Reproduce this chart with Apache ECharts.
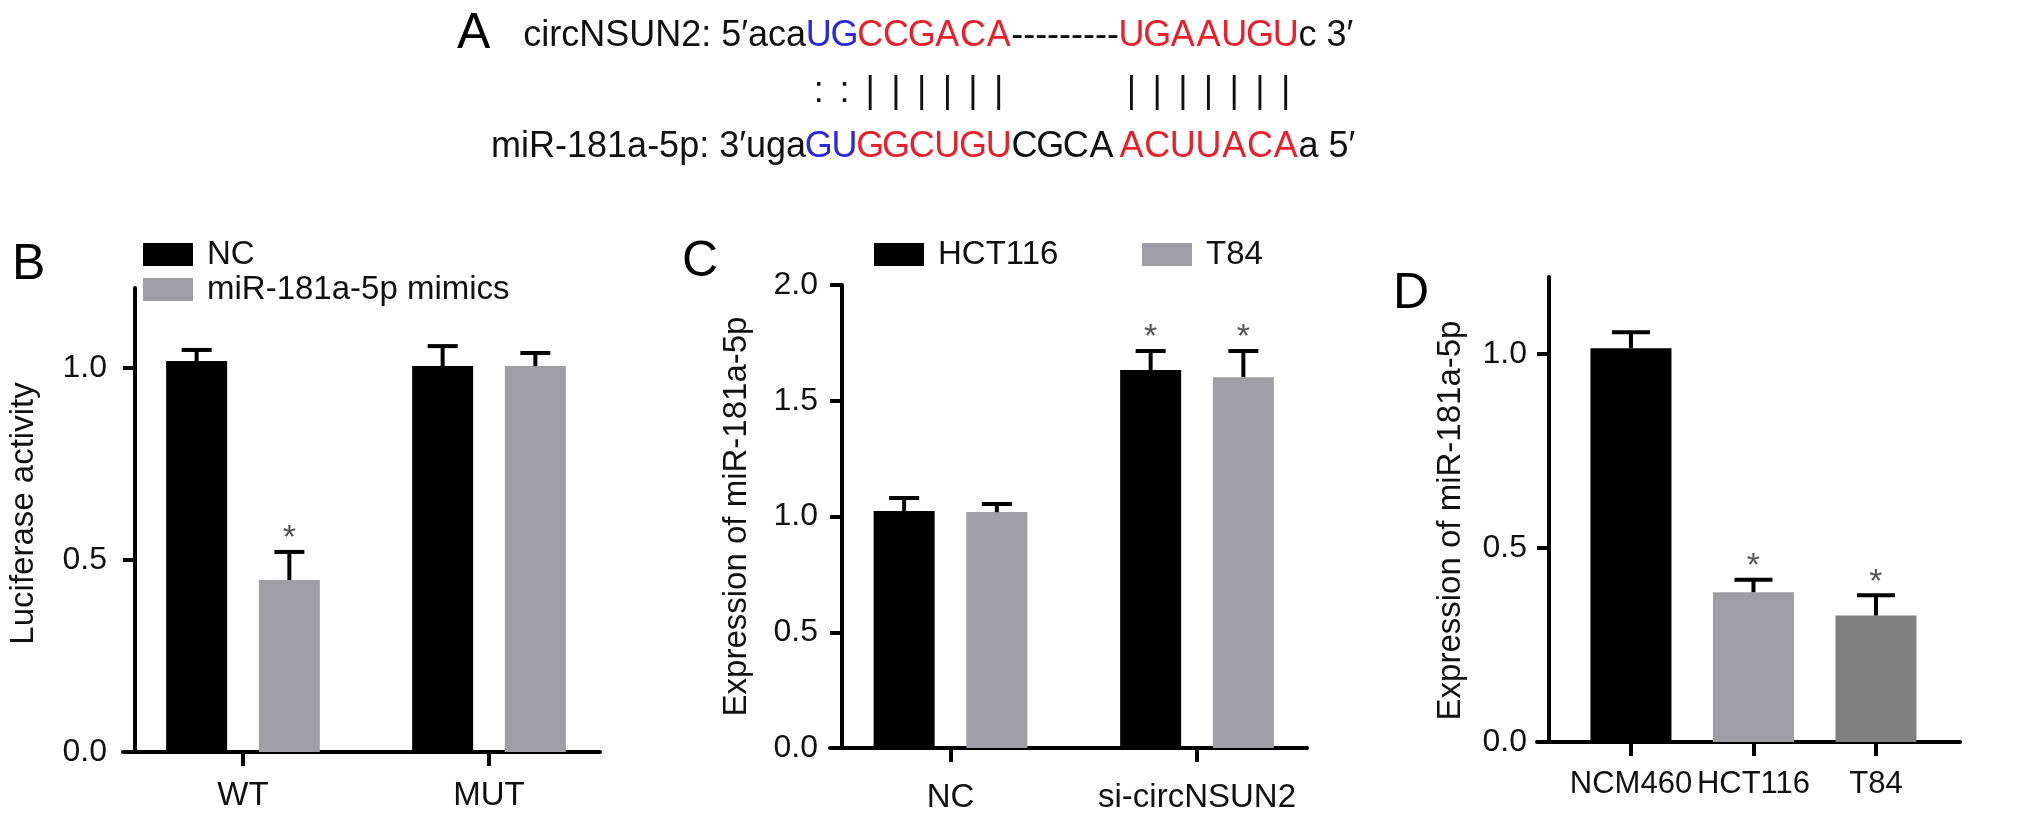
<!DOCTYPE html>
<html>
<head>
<meta charset="utf-8">
<script src="https://cdn.jsdelivr.net/npm/echarts@6/dist/echarts.min.js"></script>
<style>
  html, body { margin: 0; background: #fff; }
  #main { width: 2032px; height: 818px; }
</style>
</head>
<body>
<div id="main"></div>
<script>
const FONT = "'Liberation Sans', Arial, Helvetica, sans-serif";
const BLACK = "#000000";
const GRAY = "#9e9ea4";
const DARK_GRAY = "#808080";
const BLUE = "#2a2ad8";
const RED = "#e8202a";

// panel B - luciferase
const bCategories = ["WT", "MUT"];
const bNC = [1.018, 1.005];
const bNCsd = [0.029, 0.052];
const bMimics = [0.448, 1.005];
const bMimicsSd = [0.073, 0.034];
const bMimicsSig = [1, 0];
const bTicks = [0, 0.5, 1.0];

// panel C - expression after knockdown
const cCategories = ["NC", "si-circNSUN2"];
const cHCT116 = [1.024, 1.633];
const cHCT116sd = [0.056, 0.082];
const cHCT116Sig = [0, 1];
const cT84 = [1.019, 1.602];
const cT84sd = [0.035, 0.113];
const cT84Sig = [0, 1];
const cTicks = [0, 0.5, 1.0, 1.5, 2.0];

// panel D - cell lines
const dCategories = ["NCM460", "HCT116", "T84"];
const dValues = [1.015, 0.386, 0.326];
const dSd = [0.041, 0.032, 0.052];
const dSig = [0, 1, 1];
const dColors = [BLACK, GRAY, DARK_GRAY];
const dTicks = [0, 0.5, 1.0];

// panel A - sequence pairing
const circPrefix = "circNSUN2: 5′aca";
const circSeed = "UG";
const circSite1 = "CCGACA";
const circLoop = "---------";
const circSite2 = "UGAAUGU";
const circSuffix = "c 3′";
const mirPrefix = "miR-181a-5p: 3′uga";
const mirSeed = "GU";
const mirSite1 = "GGCUGU";
const mirLoop = "CGCA";
const mirSite2 = "ACUUACA";
const mirSuffix = "a 5′";

const lineStyle = { color: "#000", width: 4 };

function xAxis(gridIndex, cats, min, max, margin, fontSize) {
  const ticks = cats.map((c, i) => i);
  return {
    type: "value", gridIndex, min, max,
    axisLine: { show: true, onZero: false, lineStyle },
    axisTick: { show: true, customValues: ticks, length: 14, lineStyle },
    axisLabel: {
      customValues: ticks, formatter: v => cats[Math.round(v)], margin, hideOverlap: false,
      color: "#111", fontSize, fontFamily: FONT
    },
    splitLine: { show: false }
  };
}

function yAxis(gridIndex, ticks, max, name, nameGap, margin, namePad) {
  return {
    type: "value", gridIndex, min: 0, max, offset: -12,
    name, nameLocation: "middle", nameGap,
    nameTextStyle: { fontSize: 33, fontFamily: FONT, color: "#111", padding: namePad },
    axisLine: { show: true, onZero: false, lineStyle },
    axisTick: { show: true, customValues: ticks, length: 12, lineStyle },
    axisLabel: {
      customValues: ticks, formatter: v => v.toFixed(1), margin,
      color: "#111", fontSize: 32, fontFamily: FONT
    },
    splitLine: { show: false }
  };
}

function bars(name, gridIndex, values, color, barWidth) {
  return {
    name, type: "bar", xAxisIndex: gridIndex, yAxisIndex: gridIndex,
    barWidth, barGap: "52%", itemStyle: { color },
    data: values.map((v, i) => [i, v])
  };
}

// error bar (mean + sd) with optional asterisk, shifted to sit on its bar
function errorBars(gridIndex, values, sd, sig, shift, capW) {
  return {
    type: "custom", xAxisIndex: gridIndex, yAxisIndex: gridIndex, z: 3, silent: true,
    encode: { x: 0, y: 1 },
    data: values.map((v, i) => [i, v, sd[i], sig ? sig[i] : 0]),
    renderItem(params, api) {
      const p0 = api.coord([api.value(0), api.value(1)]);
      const p1 = api.coord([api.value(0), api.value(1) + api.value(2)]);
      const cx = p0[0] + shift;
      const st = { stroke: "#000", lineWidth: 4 };
      const children = [
        { type: "line", shape: { x1: cx, y1: p0[1], x2: cx, y2: p1[1] }, style: st },
        { type: "line", shape: { x1: cx - capW / 2, y1: p1[1], x2: cx + capW / 2, y2: p1[1] }, style: st }
      ];
      if (api.value(3)) {
        children.push({
          type: "text",
          style: { text: "*", x: cx, y: p1[1] - 13, align: "center", verticalAlign: "middle",
                   fill: "#555", fontSize: 34, fontFamily: FONT }
        });
      }
      return { type: "group", children };
    }
  };
}

function legendAt(name, left, top) {
  return {
    data: [name], left, top, padding: 0, itemWidth: 50, itemHeight: 23,
    icon: "rect", selectedMode: false,
    textStyle: { fontSize: 33, fontFamily: FONT, color: "#111", lineHeight: 33, padding: [0, 0, 0, 9] }
  };
}

function panelLetter(text, x, y) {
  return { type: "text", x, y, style: { text, fill: "#000", fontSize: 50, fontFamily: FONT, verticalAlign: "middle" } };
}

// panel A helpers: one fixed-width cell per nucleotide so the pairing marks line up
const CW = 25.7;
const LOOP_W = 107;
const X0 = 806;
const cells = (str, st) => str.split("").map(ch => `{${st}|${ch}}`).join("");
const seqRich = {
  b: { fill: BLUE, width: CW, align: "center", fontSize: 36, fontFamily: FONT },
  r: { fill: RED, width: CW, align: "center", fontSize: 36, fontFamily: FONT },
  k: { fill: "#111", width: CW, align: "center", fontSize: 36, fontFamily: FONT },
  g: { fill: "#111", width: LOOP_W, align: "center", fontSize: 36, fontFamily: FONT },
  sp: { fill: "#111", width: LOOP_W - 4 * CW, fontSize: 36, fontFamily: FONT },
  t: { fill: "#111", fontSize: 36, fontFamily: FONT }
};
function seqText(text, x, y, align) {
  return { type: "text", x, y, style: { text, rich: seqRich, fill: "#111", fontSize: 36, fontFamily: FONT, align, verticalAlign: "middle" } };
}
const row1 = cells(circSeed, "b") + cells(circSite1, "r") + `{g|${circLoop}}` + cells(circSite2, "r") + `{t|${circSuffix}}`;
const row2 = cells("::", "k") + cells("|".repeat(circSite1.length), "k") + "{g|\u00a0}" + cells("|".repeat(circSite2.length), "k");
const row3 = cells(mirSeed, "b") + cells(mirSite1, "r") + cells(mirLoop, "k") + "{sp|\u00a0}" + cells(mirSite2, "r") + `{t|${mirSuffix}}`;

const BAR_SHIFT = (61 + 61 * 0.52) / 2;

const option = {
  animation: false,
  backgroundColor: "#fff",
  grid: [
    { left: 123, top: 288, width: 477, height: 464, outerBoundsMode: "none" },
    { left: 830, top: 285, width: 477, height: 463, outerBoundsMode: "none" },
    { left: 1537, top: 277, width: 423, height: 465, outerBoundsMode: "none" }
  ],
  xAxis: [
    xAxis(0, bCategories, -0.4878, 1.4512, 27, 33),
    xAxis(1, cCategories, -0.4888, 1.4462, 33, 33),
    xAxis(2, dCategories, -0.767, 2.686, 27, 31)
  ],
  yAxis: [
    yAxis(0, bTicks, 464 / 384, "Luciferase activity", 95, 28, [0, 0, 0, 13]),
    yAxis(1, cTicks, 2.0, "Expression of miR-181a-5p", 89, 24, 0),
    yAxis(2, dTicks, 465 / 388, "Expression of miR-181a-5p", 82, 22, [0, 22, 0, 0])
  ],
  legend: [
    legendAt("NC", 143, 238),
    legendAt("miR-181a-5p mimics", 143, 273),
    legendAt("HCT116", 874, 238),
    legendAt("T84", 1142, 238)
  ],
  series: [
    bars("NC", 0, bNC, BLACK, 61),
    bars("miR-181a-5p mimics", 0, bMimics, GRAY, 61),
    errorBars(0, bNC, bNCsd, null, -BAR_SHIFT, 30),
    errorBars(0, bMimics, bMimicsSd, bMimicsSig, BAR_SHIFT, 30),
    bars("HCT116", 1, cHCT116, BLACK, 61),
    bars("T84", 1, cT84, GRAY, 61),
    errorBars(1, cHCT116, cHCT116sd, cHCT116Sig, -BAR_SHIFT, 30),
    errorBars(1, cT84, cT84sd, cT84Sig, BAR_SHIFT, 30),
    {
      name: "cell lines", type: "bar", xAxisIndex: 2, yAxisIndex: 2, barWidth: 81,
      data: dValues.map((v, i) => ({ value: [i, v], itemStyle: { color: dColors[i] } }))
    },
    errorBars(2, dValues, dSd, dSig, 0, 38)
  ],
  graphic: [
    panelLetter("A", 457, 34),
    panelLetter("B", 12, 265),
    panelLetter("C", 682, 262),
    panelLetter("D", 1393, 294),
    seqText(circPrefix, X0, 36, "right"),
    seqText(row1, X0, 36, "left"),
    seqText(row2, X0, 92, "left"),
    seqText(mirPrefix, X0, 147, "right"),
    seqText(row3, X0, 147, "left")
  ]
};

const myChart = echarts.init(document.getElementById("main"));
myChart.setOption(option);
window.onresize = function () {
  myChart.resize();
};
</script>
</body>
</html>
